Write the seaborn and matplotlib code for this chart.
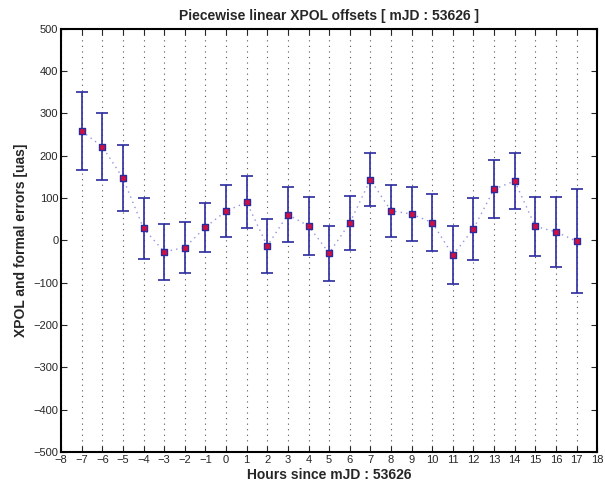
import matplotlib.pyplot as plt
import seaborn as sns
import pandas as pd
import numpy as np

### Dados
horas = [-7, -6, -5, -4, -3, -2, -1, 0, 1, 2, 3, 4, 5, 6, 7, 8, 9, 10, 11, 12, 13, 14, 15, 16, 17]
xpol = [258, 221, 147, 28, -27, -17, 31, 69, 90, -13, 61, 34, -30, 41, 143, 70, 62, 42, -35, 27, 121, 140, 33, 20, -2]
erro = [92, 79, 78, 71, 66, 61, 58, 61, 61, 63, 64, 68, 65, 63, 63, 61, 64, 68, 69, 73, 69, 66, 70, 82, 123]

dados = pd.DataFrame({"hora": horas, "xpol": xpol, "erro": erro})

sns.set_style("ticks")
plt.rcParams["font.family"] = ["Liberation Sans", "DejaVu Sans"]

fig = plt.figure(figsize = (6.05, 4.93), dpi = 100)
ax = fig.add_axes([0.101, 0.083, 0.886, 0.859])

azul = "#2b2b9e"
# linha pontilhada ligando os pontos
sns.lineplot(data = dados, x = "hora", y = "xpol", ax = ax, color = "#7777dd",
				linestyle = (0, (1, 3)), linewidth = 1.0, alpha = 0.8)
ax.errorbar(dados["hora"], dados["xpol"], yerr = dados["erro"], fmt = "none",
				ecolor = azul, elinewidth = 1.2, capsize = 4, capthick = 1.2, zorder = 3)
sns.scatterplot(data = dados, x = "hora", y = "xpol", ax = ax, marker = "s", s = 14,
				color = "#d01040", edgecolor = azul, linewidth = 1.0, zorder = 4)

ax.set_xlim(-8, 18)
ax.set_ylim(-500, 500)
ax.set_xticks(np.arange(-8, 19, 1))
ax.set_yticks(np.arange(-500, 501, 100))
ax.xaxis.grid(True, linestyle = (0, (1, 4)), color = "#555555", linewidth = 0.8)
ax.yaxis.grid(False)
ax.tick_params(direction = "in", top = True, right = True, labelsize = 8, length = 4, width = 0.8, pad = 2)
for s in ax.spines.values():
	s.set_linewidth(1.5)
	s.set_color("black")
ax.set_xlabel("Hours since mJD : 53626", fontsize = 10, fontweight = "bold", labelpad = 2)
ax.set_ylabel("XPOL and formal errors [uas]", fontsize = 10, fontweight = "bold", labelpad = 4)
ax.set_title("Piecewise linear XPOL offsets [ mJD : 53626 ]", fontsize = 10, fontweight = "bold", pad = 6)

plt.savefig("out.png", dpi = 100)
